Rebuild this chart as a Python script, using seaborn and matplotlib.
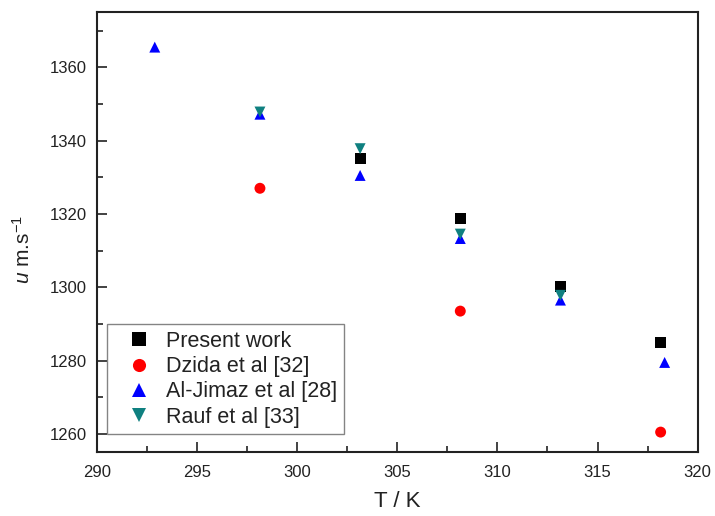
import matplotlib
matplotlib.use('Agg')
import matplotlib.pyplot as plt
from matplotlib.ticker import MultipleLocator
import seaborn as sns
import pandas as pd

# speed of sound data
present_T = [303.15, 308.15, 313.15, 318.15]
present_u = [1335.0, 1318.8, 1300.1, 1285.0]

dzida_T = [298.15, 308.15, 318.15]
dzida_u = [1327.0, 1293.5, 1260.5]

aljimaz_T = [292.9, 298.15, 303.15, 308.15, 313.15, 318.35]
aljimaz_u = [1365.5, 1347.2, 1330.5, 1313.3, 1296.5, 1279.5]

rauf_T = [298.15, 303.15, 308.15, 313.15]
rauf_u = [1347.8, 1337.8, 1314.5, 1297.8]

labels = ['Present work', 'Dzida et al [32]', 'Al-Jimaz et al [28]', 'Rauf et al [33]']
colors = {'Present work': 'black', 'Dzida et al [32]': '#ff0000',
          'Al-Jimaz et al [28]': '#0000ff', 'Rauf et al [33]': '#0f8080'}
markers = {'Present work': 's', 'Dzida et al [32]': 'o',
           'Al-Jimaz et al [28]': '^', 'Rauf et al [33]': 'v'}

frames = []
for lab, T, u in zip(labels, [present_T, dzida_T, aljimaz_T, rauf_T],
                     [present_u, dzida_u, aljimaz_u, rauf_u]):
    frames.append(pd.DataFrame({'T': T, 'u': u, 'source': lab}))
df = pd.concat(frames, ignore_index=True)

sns.set_style('ticks')
plt.rcParams['font.family'] = ['Liberation Sans', 'DejaVu Sans']
plt.rcParams['mathtext.fontset'] = 'custom'
plt.rcParams['mathtext.rm'] = 'Liberation Sans'
plt.rcParams['mathtext.it'] = 'Liberation Sans:italic'

fig = plt.figure(figsize=(7.15, 5.16), dpi=100)
ax = fig.add_axes([0.1352, 0.1235, 0.8406, 0.8527])

sns.scatterplot(data=df, x='T', y='u', hue='source', style='source',
                hue_order=labels, style_order=labels,
                palette=colors, markers=markers, s=62, linewidth=0, ax=ax)

ax.set_xlim(290, 320)
ax.set_ylim(1255, 1375)
ax.xaxis.set_major_locator(MultipleLocator(5))
ax.xaxis.set_minor_locator(MultipleLocator(2.5))
ax.yaxis.set_major_locator(MultipleLocator(20))
ax.yaxis.set_minor_locator(MultipleLocator(10))
ax.tick_params(which='both', direction='in', top=False, right=False,
               labelsize=12, width=1.2, colors='#222222')
ax.tick_params(which='major', length=7)
ax.tick_params(which='minor', length=4.5)
ax.tick_params(axis='x', pad=9)
ax.tick_params(axis='y', pad=7)
for sp in ax.spines.values():
    sp.set_linewidth(1.5)
    sp.set_color('#222222')

ax.set_xlabel('T / K', fontsize=16, labelpad=8, color='#222222')
ax.set_ylabel(r'$u$ m.s$^{-1}$', fontsize=15, color='#222222')
ax.yaxis.set_label_coords(-0.105, 0.46)

leg = ax.legend(loc='lower left', bbox_to_anchor=(0.0175, 0.041), borderaxespad=0,
                fontsize=15.5, frameon=True, fancybox=False, title=None,
                handlelength=2.4, handletextpad=0.05, labelspacing=0.2,
                borderpad=0.3, markerscale=1.2)
leg.get_frame().set_edgecolor('#666666')
leg.get_frame().set_linewidth(1.0)
for t in leg.get_texts():
    t.set_color('#222222')

fig.savefig('out.png', dpi=100)
